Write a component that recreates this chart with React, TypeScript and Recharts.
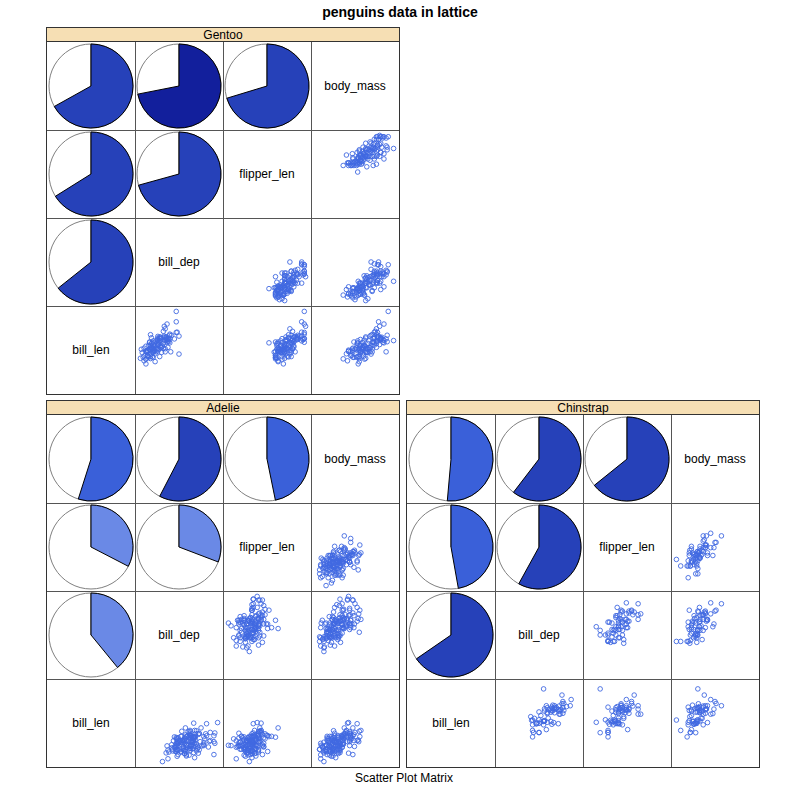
import React from "react";
import { PieChart, Pie, Cell, ScatterChart, Scatter, XAxis, YAxis } from "recharts";

// variables: bill_len, bill_dep, flipper_len, body_mass
const varNames = ["bill_len", "bill_dep", "flipper_len", "body_mass"];
const varRanges: [number, number][] = [
  [32.1, 59.6],
  [13.1, 21.5],
  [172, 231],
  [2700, 6300],
];

const gentooRows = [
  [46.1,13.2,211,4500],[50.0,16.3,230,5700],[48.7,14.1,210,4450],[50.0,15.2,218,5700],[47.6,14.5,215,5400],
  [46.5,13.5,210,4550],[45.4,14.6,211,4800],[46.7,15.3,219,5200],[43.3,13.4,209,4400],[46.8,15.4,215,5150],
  [40.9,13.7,214,4650],[49.0,16.1,216,5550],[45.5,13.7,214,4650],[48.4,14.6,213,5850],[45.8,14.6,210,4200],
  [49.3,15.7,217,5850],[42.0,13.5,210,4150],[49.2,15.2,221,6300],[46.2,14.5,209,4800],[48.7,15.1,222,5350],
  [50.2,14.3,218,5700],[45.1,14.5,215,5000],[46.5,14.5,213,4400],[46.3,15.8,215,5050],[42.9,13.1,215,5000],
  [46.1,15.1,215,5100],[44.5,14.3,216,4100],[47.8,15.0,215,5650],[48.2,14.3,210,4600],[50.0,15.3,220,5550],
  [47.3,15.3,222,5250],[42.8,14.2,209,4700],[45.1,14.5,207,5050],[59.6,17.0,230,6050],[49.1,14.8,220,5150],
  [48.4,16.3,220,5400],[42.6,13.7,213,4950],[44.4,17.3,219,5250],[44.0,13.6,208,4350],[48.7,15.7,208,5350],
  [42.7,13.7,208,3950],[49.6,16.0,225,5700],[45.3,13.7,210,4300],[49.6,15.0,216,4750],[50.5,15.9,222,5550],
  [43.6,13.9,217,4900],[45.5,13.9,210,4200],[50.5,15.9,225,5400],[44.9,13.3,213,5100],[45.2,15.8,215,5300],
  [46.6,14.2,210,4850],[48.5,14.1,220,5300],[45.1,14.4,210,4400],[50.1,15.0,225,5000],[46.5,14.4,217,4900],
  [45.0,15.4,220,5050],[43.8,13.9,208,4300],[45.5,15.0,220,5000],[43.2,14.5,208,4450],[50.4,15.3,224,5550],
  [45.3,13.8,208,4200],[46.2,14.9,221,5300],[45.7,13.9,214,4400],[54.3,15.7,231,5650],[45.8,14.2,219,4700],
  [49.8,16.8,230,5700],[46.2,14.4,214,4650],[49.5,16.2,229,5800],[43.5,14.2,220,4700],[50.7,15.0,223,5550],
  [47.7,15.0,216,4750],[46.4,15.6,221,5000],[48.2,15.6,221,5100],[46.5,14.8,217,5200],[46.4,15.0,216,4700],
  [48.6,16.0,230,5800],[47.5,14.2,209,4600],[51.1,16.3,220,6000],[45.2,13.8,215,4750],[45.2,16.4,223,5950],
  [49.1,14.5,212,4625],[52.5,15.6,221,5450],[47.4,14.6,212,4725],[50.0,15.9,224,5350],[44.9,13.8,212,4750],
  [50.8,17.3,228,5600],[43.4,14.4,218,4600],[51.3,14.2,218,5300],[47.5,14.0,212,4875],[52.1,17.0,230,5550],
  [47.5,15.0,218,4950],[52.2,17.1,228,5400],[45.5,14.5,212,4750],[49.5,16.1,224,5650],[44.5,14.7,214,4850],
  [50.8,15.7,226,5200],[49.4,15.8,216,4925],[46.9,14.6,222,4875],[48.4,14.4,203,4625],[51.1,16.5,225,5250],
  [48.5,15.0,219,4850],[55.9,17.0,228,5600],[47.2,15.5,215,4975],[49.1,15.0,228,5500],[46.8,16.1,215,5500],
  [41.7,14.7,210,4700],[53.4,15.8,219,5500],[43.3,14.0,208,4575],[48.1,15.1,209,5500],[50.5,15.2,216,5000],
  [49.8,15.9,229,5950],[43.5,15.2,213,4650],[51.5,16.3,230,5500],[46.2,14.1,217,4375],[55.1,16.0,230,5850],
  [48.8,16.2,222,6000],[47.2,13.7,214,4925],[46.8,14.3,215,4850],[50.4,15.7,222,5750],[45.2,14.8,212,5200],
  [49.9,16.1,213,5400],
];

const adelieRows = [
  [39.1,18.7,181,3750],[39.5,17.4,186,3800],[40.3,18.0,195,3250],[36.7,19.3,193,3450],[39.3,20.6,190,3650],
  [38.9,17.8,181,3625],[39.2,19.6,195,4675],[34.1,18.1,193,3475],[42.0,20.2,190,4250],[37.8,17.1,186,3300],
  [37.8,17.3,180,3700],[41.1,17.6,182,3200],[38.6,21.2,191,3800],[34.6,21.1,198,4400],[36.6,17.8,185,3700],
  [38.7,19.0,195,3450],[42.5,20.7,197,4500],[34.4,18.4,184,3325],[46.0,21.5,194,4200],[37.8,18.3,174,3400],
  [37.7,18.7,180,3600],[35.9,19.2,189,3800],[38.2,18.1,185,3950],[38.8,17.2,180,3800],[35.3,18.9,187,3800],
  [40.6,18.6,183,3550],[40.5,17.9,187,3200],[37.9,18.6,172,3150],[40.5,18.9,180,3950],[39.5,16.7,178,3250],
  [37.2,18.1,178,3900],[39.5,17.8,188,3300],[40.9,18.9,184,3900],[36.4,17.0,195,3325],[39.2,21.1,196,4150],
  [38.8,20.0,190,3950],[42.2,18.5,180,3550],[37.6,19.3,181,3300],[39.8,19.1,184,4650],[36.5,18.0,182,3150],
  [40.8,18.4,195,3900],[36.0,18.5,186,3100],[44.1,19.7,196,4400],[37.0,16.9,185,3000],[39.6,18.8,190,4600],
  [41.1,19.0,182,3425],[37.5,18.9,179,2975],[36.0,17.9,190,3450],[42.3,21.2,191,4150],[39.6,17.7,186,3500],
  [40.1,18.9,188,4300],[35.0,17.9,190,3450],[42.0,19.5,200,4050],[34.5,18.1,187,2900],[41.4,18.6,191,3700],
  [39.0,17.5,186,3550],[40.6,18.8,193,3800],[36.5,16.6,181,2850],[37.6,19.1,194,3750],[35.7,16.9,185,3150],
  [41.3,21.1,195,4400],[37.6,17.0,185,3600],[41.1,18.2,192,4050],[36.4,17.1,184,2850],[41.6,18.0,192,3950],
  [35.5,16.2,195,3350],[41.1,19.1,188,4100],[35.9,16.6,190,3050],[41.8,19.4,198,4450],[33.5,19.0,190,3600],
  [39.7,18.4,190,3900],[39.6,17.2,196,3550],[45.8,18.9,197,4150],[35.5,17.5,190,3700],[42.8,18.5,195,4250],
  [40.9,16.8,191,3700],[37.2,19.4,184,3900],[36.2,16.1,187,3550],[42.1,19.1,195,4000],[34.6,17.2,189,3200],
  [42.9,17.6,196,4700],[36.7,18.8,187,3800],[35.1,19.4,193,4200],[37.3,17.8,191,3350],[41.3,20.3,194,3550],
  [36.3,19.5,190,3800],[36.9,18.6,189,3500],[38.3,19.2,189,3950],[38.9,18.8,190,3600],[35.7,18.0,202,3550],
  [41.1,18.1,205,4300],[34.0,17.1,185,3400],[39.6,18.1,186,4450],[36.2,17.3,187,3300],[40.8,18.9,208,4300],
  [38.1,18.6,190,3700],[40.3,18.5,196,4350],[33.1,16.1,178,2900],[43.2,18.5,192,4100],[35.0,17.9,192,3725],
  [41.0,20.0,203,4725],[37.7,16.0,183,3075],[37.8,20.0,190,4250],[37.9,18.6,193,2925],[39.7,18.9,184,3550],
  [38.6,17.2,199,3750],[38.2,20.0,190,3900],[38.1,17.0,181,3175],[43.2,19.0,197,4775],[38.1,16.5,198,3825],
  [45.6,20.3,191,4600],[39.7,17.7,193,3200],[42.2,19.5,197,4275],[39.6,20.7,191,3900],[42.7,18.3,196,4075],
  [38.6,17.0,188,2900],[37.3,20.5,199,3775],[35.7,17.0,189,3350],[41.1,18.6,189,3325],[36.2,17.2,187,3150],
  [37.7,19.8,198,3500],[40.2,17.0,176,3450],[41.4,18.5,202,3875],[35.2,15.9,186,3050],[40.6,19.0,199,4000],
  [38.8,17.6,191,3275],[41.5,18.3,195,4300],[39.0,17.1,191,3050],[44.1,18.0,210,4000],[38.5,17.9,190,3325],
  [43.1,19.2,197,3500],[36.8,18.5,193,3500],[37.5,18.5,199,4475],[38.1,17.6,187,3425],[41.1,17.5,190,3900],
  [35.6,17.5,191,3175],[40.2,20.1,200,3975],[37.0,16.5,185,3400],[39.7,17.9,193,4250],[40.2,17.1,193,3400],
  [40.6,17.2,187,3475],[32.1,15.5,188,3050],[40.7,17.0,190,3725],[37.3,16.8,192,3000],[39.0,18.7,185,3650],
  [39.2,18.6,190,4250],[36.6,18.4,184,3475],[36.0,17.8,195,3450],[37.8,18.1,193,3750],[36.0,17.1,187,3700],
  [41.5,18.5,201,4000],
];

const chinstrapRows = [
  [46.5,17.9,192,3500],[50.0,19.5,196,3900],[51.3,19.2,193,3650],[45.4,18.7,188,3525],[52.7,19.8,197,3725],
  [45.2,17.8,198,3950],[46.1,18.2,178,3250],[51.3,18.2,197,3750],[46.0,18.9,195,4150],[51.3,19.9,198,3700],
  [46.6,17.8,193,3800],[51.7,20.3,194,3775],[47.0,17.3,185,3700],[52.0,18.1,201,4050],[45.9,17.1,190,3575],
  [50.5,19.6,201,4050],[50.3,20.0,197,3300],[58.0,17.8,181,3700],[46.4,18.6,190,3450],[49.2,18.2,195,4400],
  [42.4,17.3,181,3600],[48.5,17.5,191,3400],[43.2,16.6,187,2900],[50.6,19.4,193,3800],[46.7,17.9,195,3300],
  [52.0,19.0,197,4150],[50.5,18.4,200,3400],[49.5,19.0,200,3800],[46.4,17.8,191,3700],[52.8,20.0,205,4550],
  [40.9,16.6,187,3200],[54.2,20.8,201,4300],[42.5,16.7,187,3350],[51.0,18.8,203,4100],[49.7,18.6,195,3600],
  [47.5,16.8,199,3900],[47.6,18.3,195,3850],[52.0,20.7,210,4800],[46.9,16.6,192,2700],[53.5,19.9,205,4500],
  [49.0,19.5,210,3950],[46.2,17.5,187,3650],[50.9,19.1,196,3550],[45.5,17.0,196,3500],[50.9,17.9,196,3675],
  [50.8,18.5,201,4450],[50.1,17.9,190,3400],[49.0,19.6,212,4300],[51.5,18.7,187,3250],[49.8,17.3,198,3675],
  [48.1,16.4,199,3325],[51.4,19.0,201,3950],[45.7,17.3,193,3600],[50.7,19.7,203,4050],[42.5,17.3,187,3350],
  [52.2,18.8,197,3450],[45.2,16.6,191,3250],[49.3,19.9,203,4050],[50.2,18.8,202,3800],[45.6,19.4,194,3525],
  [51.9,19.5,206,3950],[46.8,16.5,189,3650],[45.7,17.0,195,3650],[55.8,19.8,207,4000],[43.5,18.1,202,3400],
  [49.6,18.2,193,3775],[50.8,19.0,210,4100],[50.2,18.7,198,3775],
];

// correlations: [len-dep, len-flip, len-mass, dep-flip, dep-mass, flip-mass]
const gentooCor = [0.643, 0.661, 0.669, 0.707, 0.719, 0.703];
const adelieCor = [0.391, 0.326, 0.549, 0.308, 0.576, 0.468];
const chinstrapCor = [0.654, 0.472, 0.514, 0.580, 0.604, 0.642];

const corBreaks = [0.4, 0.55, 0.71];
const corColors = ["#6A89E6", "#3A60D9", "#2641B9", "#121F9C"];

const CELL = 88;
const STRIP = 14;
const FONT = "'Liberation Sans', Arial, Helvetica, sans-serif";
const POINT_COLOR = "#4169E1";

function domainOf(k: number): [number, number] {
  const [a, b] = varRanges[k];
  const d = (b - a) * 0.07;
  return [a - d, b + d];
}

function corIndex(a: number, b: number): number {
  const i = Math.min(a, b);
  const j = Math.max(a, b);
  const pairs = [[0, 1], [0, 2], [0, 3], [1, 2], [1, 3], [2, 3]];
  return pairs.findIndex((p) => p[0] === i && p[1] === j);
}

function colorFor(r: number): string {
  let idx = 0;
  while (idx < corBreaks.length && r >= corBreaks[idx]) idx++;
  return corColors[idx];
}

const PointShape = (props: any) => (
  <circle cx={props.cx} cy={props.cy} r={2.3} fill="none" stroke={POINT_COLOR} strokeWidth={0.9} />
);

function PieCell({ r }: { r: number }) {
  return (
    <PieChart width={CELL} height={CELL} margin={{ top: 0, right: 0, bottom: 0, left: 0 }}>
      <Pie
        data={[{ v: 1 }]}
        dataKey="v"
        cx="50%"
        cy="50%"
        outerRadius={42}
        startAngle={90}
        endAngle={-270}
        isAnimationActive={false}
        fill="#ffffff"
        stroke="#808080"
        strokeWidth={1}
      />
      <Pie
        data={[{ v: r }]}
        dataKey="v"
        cx="50%"
        cy="50%"
        outerRadius={42}
        startAngle={90}
        endAngle={90 - 360 * r}
        isAnimationActive={false}
        stroke="#000000"
        strokeWidth={1}
      >
        <Cell fill={colorFor(r)} />
      </Pie>
    </PieChart>
  );
}

function ScatterCell({ rows, xi, yi }: { rows: number[][]; xi: number; yi: number }) {
  const data = rows.map((row) => ({ x: row[xi], y: row[yi] }));
  return (
    <ScatterChart width={CELL} height={CELL} margin={{ top: 0, right: 0, bottom: 0, left: 0 }}>
      <XAxis type="number" dataKey="x" domain={domainOf(xi)} hide />
      <YAxis type="number" dataKey="y" domain={domainOf(yi)} hide />
      <Scatter data={data} isAnimationActive={false} shape={PointShape} />
    </ScatterChart>
  );
}

function Panel({ left, top, name, rows, cors }: { left: number; top: number; name: string; rows: number[][]; cors: number[] }) {
  const cells: React.ReactNode[] = [];
  for (let i = 0; i < 4; i++) {
    for (let j = 0; j < 4; j++) {
      const yv = 3 - i;
      const xv = j;
      let content: React.ReactNode;
      if (xv === yv) {
        content = (
          <div style={{ width: CELL, height: CELL, display: "flex", alignItems: "center", justifyContent: "center", fontSize: 12, fontFamily: FONT, color: "#000" }}>
            {varNames[xv]}
          </div>
        );
      } else if (xv < yv) {
        content = <PieCell r={cors[corIndex(xv, yv)]} />;
      } else {
        content = <ScatterCell rows={rows} xi={xv} yi={yv} />;
      }
      cells.push(
        <div
          key={`${i}-${j}`}
          style={{
            position: "absolute",
            left: j * CELL,
            top: i * CELL,
            width: CELL,
            height: CELL,
            boxSizing: "border-box",
          }}
        >
          {content}
        </div>
      );
    }
  }
  const lines: React.ReactNode[] = [];
  for (let k = 1; k < 4; k++) {
    lines.push(<div key={`v${k}`} style={{ position: "absolute", left: k * CELL - 0.5, top: 0, width: 1, height: 4 * CELL, background: "#555" }} />);
    lines.push(<div key={`h${k}`} style={{ position: "absolute", top: k * CELL - 0.5, left: 0, height: 1, width: 4 * CELL, background: "#555" }} />);
  }
  return (
    <div style={{ position: "absolute", left, top, width: 4 * CELL, height: STRIP + 4 * CELL }}>
      <div
        style={{
          position: "absolute",
          left: 0,
          top: 0,
          width: 4 * CELL,
          height: STRIP,
          background: "#F6DFB4",
          borderBottom: "1px solid #333",
          boxSizing: "border-box",
          fontFamily: FONT,
          fontSize: 12,
          lineHeight: `${STRIP}px`,
          textAlign: "center",
          color: "#000",
        }}
      >
        {name}
      </div>
      <div style={{ position: "absolute", left: 0, top: STRIP, width: 4 * CELL, height: 4 * CELL }}>
        {cells}
        {lines}
      </div>
      <div
        style={{
          position: "absolute",
          left: -1,
          top: -1,
          width: 4 * CELL + 2,
          height: STRIP + 4 * CELL + 2,
          border: "1px solid #333",
          boxSizing: "border-box",
          pointerEvents: "none",
        }}
      />
    </div>
  );
}

export default function App() {
  return (
    <div style={{ position: "absolute", left: 0, top: 0, width: 800, height: 800, background: "#fff", fontFamily: FONT }}>
      <div style={{ position: "absolute", left: 0, top: 4, width: 800, textAlign: "center", fontSize: 14, fontWeight: "bold", color: "#000" }}>
        penguins data in lattice
      </div>
      <Panel left={47} top={28} name="Gentoo" rows={gentooRows} cors={gentooCor} />
      <Panel left={47} top={401} name="Adelie" rows={adelieRows} cors={adelieCor} />
      <Panel left={407} top={401} name="Chinstrap" rows={chinstrapRows} cors={chinstrapCor} />
      <div style={{ position: "absolute", left: 0, top: 771, width: 808, textAlign: "center", fontSize: 12, color: "#000" }}>
        Scatter Plot Matrix
      </div>
    </div>
  );
}
